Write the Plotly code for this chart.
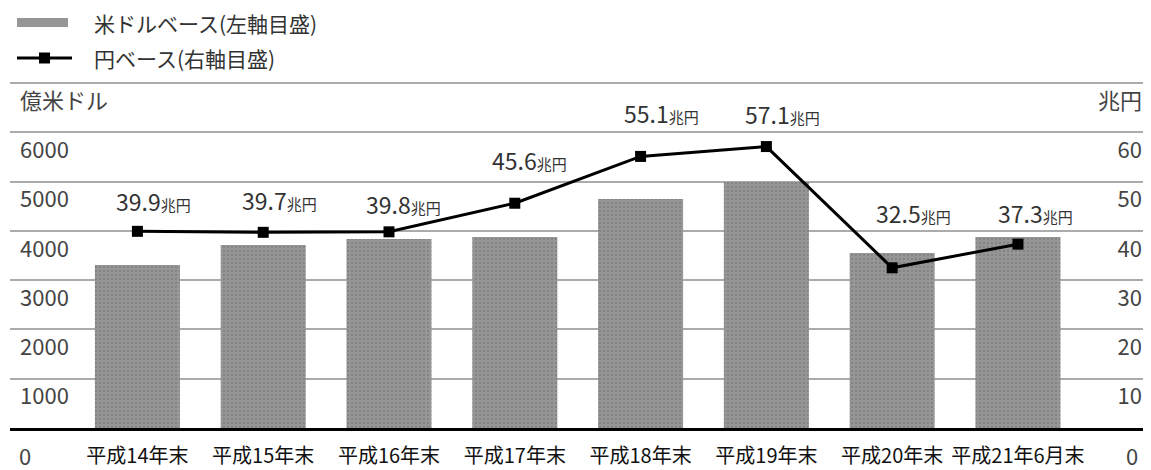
import plotly.graph_objects as go

categories = ["平成14年末", "平成15年末", "平成16年末", "平成17年末",
              "平成18年末", "平成19年末", "平成20年末", "平成21年6月末"]
usd_base = [3306, 3712, 3834, 3874, 4645, 4990, 3550, 3874]   # 億米ドル (left axis)
yen_base = [39.9, 39.7, 39.8, 45.6, 55.1, 57.1, 32.5, 37.3]    # 兆円 (right axis)

left_ticks = [0, 1000, 2000, 3000, 4000, 5000, 6000, 7000]
left_ticktext = ["0", "1000", "2000", "3000", "4000", "5000", "6000", "億米ドル"]
right_ticks = [0, 10, 20, 30, 40, 50, 60, 70]
right_ticktext = ["0", "10", "20", "30", "40", "50", "60", "兆円"]

legend_names = ["米ドルベース(左軸目盛)", "円ベース(右軸目盛)"]

# label placement offsets (pixels) - style only
label_dx = [16, 16, 14, 15, 21, 16, 21, 18]
label_dy = [30, 32, 28, 43, 43, 33, 55, 31]

# page body has an 8px margin; figure is sized to fill the rest of the window
OFF = 8
W, H = 1151 - OFF, 470 - OFF
L, R, T, B = 10 - OFF, 6, 83 - OFF - 2, 42
PW, PH = W - L - R, H - T - B
FONT = "Noto Sans CJK JP, Noto Sans, sans-serif"

def px(sx):  # screen x -> paper x
    return (sx - OFF - L) / PW

def py(sy):  # screen y -> paper y
    return (H - B - (sy - OFF)) / PH

fig = go.Figure()
fig.add_trace(go.Bar(
    x=categories, y=usd_base, name=legend_names[0], width=0.676,
    marker=dict(color="#969696", line=dict(width=0),
                pattern=dict(shape=".", fgcolor="#6e6e6e", size=4, solidity=0.25)),
    showlegend=False, yaxis="y",
))
fig.add_trace(go.Scatter(
    x=categories, y=yen_base, name=legend_names[1], mode="lines+markers",
    line=dict(color="#000000", width=3),
    marker=dict(symbol="square", size=11, color="#000000"),
    showlegend=False, yaxis="y2",
))

annotations = []
for c, v, dx, dy in zip(categories, yen_base, label_dx, label_dy):
    annotations.append(dict(
        x=c, y=v, xref="x", yref="y2", xshift=dx, yshift=dy, showarrow=False,
        text=f"{v:.1f}<span style='font-size:15px'>兆円</span>",
        font=dict(family=FONT, size=23, color="#333333"),
        xanchor="center", yanchor="middle",
    ))

# zero labels below the baseline (both axes)
annotations.append(dict(x=px(17), y=py(455), xref="paper", yref="paper", showarrow=False,
                        text="0", xanchor="left", yanchor="middle",
                        font=dict(family=FONT, size=22, color="#444444")))
annotations.append(dict(x=px(1140), y=py(455), xref="paper", yref="paper", showarrow=False,
                        text="0", xanchor="right", yanchor="middle",
                        font=dict(family=FONT, size=22, color="#444444")))

# legend drawn manually
shapes = [
    dict(type="rect", xref="paper", yref="paper", x0=px(17), x1=px(68), y0=py(27), y1=py(18),
         fillcolor="#969696", line=dict(width=0)),
    dict(type="line", xref="paper", yref="paper", x0=px(17), x1=px(72), y0=py(58), y1=py(58),
         line=dict(color="#000000", width=3)),
    dict(type="rect", xref="paper", yref="paper", x0=px(39), x1=px(50), y0=py(63.5), y1=py(52.5),
         fillcolor="#000000", line=dict(width=0)),
]
for name, yc in zip(legend_names, [23, 58]):
    annotations.append(dict(
        x=px(92), y=py(yc), xref="paper", yref="paper", showarrow=False,
        text=name, xanchor="left", yanchor="middle",
        font=dict(family=FONT, size=21, color="#333333"),
    ))

fig.update_layout(
    width=W, height=H,
    margin=dict(l=L, r=R, t=T, b=B, pad=0, autoexpand=False),
    paper_bgcolor="white", plot_bgcolor="white",
    bargap=0.3,
    font=dict(family=FONT),
    xaxis=dict(
        type="category", range=[-1.013, 8.01], automargin=False,
        showgrid=False, showline=True, linecolor="#000000", linewidth=3,
        ticks="", tickfont=dict(family=FONT, size=20, color="#111111"),
        ticklabelstandoff=8,
    ),
    yaxis=dict(
        range=[0, 7040], tickvals=left_ticks, ticktext=left_ticktext, automargin=False,
        showgrid=True, gridcolor="#ababab", gridwidth=2,
        zeroline=False, showline=False, ticks="",
        ticklabelposition="inside", ticklabelshift=18, ticklabelstandoff=7,
        tickfont=dict(family=FONT, size=22, color="#444444"),
    ),
    yaxis2=dict(
        range=[0, 70.4], tickvals=right_ticks, ticktext=right_ticktext, automargin=False,
        overlaying="y", side="right", anchor="x",
        showgrid=False, zeroline=False, showline=False, ticks="",
        ticklabelposition="inside", ticklabelshift=18, ticklabelstandoff=0,
        tickfont=dict(family=FONT, size=22, color="#444444"),
    ),
    annotations=annotations, shapes=shapes,
)

fig.write_html("out.html")
